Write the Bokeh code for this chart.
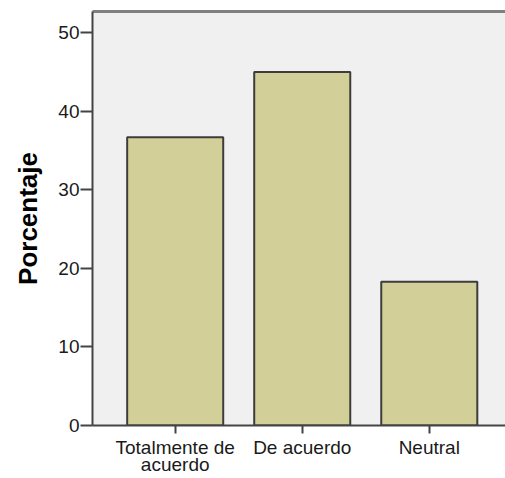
from bokeh.plotting import figure
from bokeh.models import Range1d, FixedTicker, LinearAxis, ColumnDataSource
from bokeh.embed import file_html
from bokeh.resources import INLINE

categories = ["Totalmente de\nacuerdo", "De acuerdo", "Neutral"]
positions = [1, 2, 3]
porcentaje = [36.7, 45.0, 18.3]
y_ticks = [0, 10, 20, 30, 40, 50]

src = ColumnDataSource(dict(x=positions, top=porcentaje))

p = figure(width=505, height=478, output_backend="svg", toolbar_location=None,
           x_range=Range1d(0.349, 3.6), y_range=Range1d(0, 52.7),
           min_border_left=92, min_border_right=0, min_border_top=11,
           min_border_bottom=53)
p.xaxis.visible = False
p.yaxis.visible = False
p.grid.visible = False
p.outline_line_color = None
p.background_fill_color = "#F0F0F0"
p.border_fill_color = "white"

p.vbar(x="x", top="top", bottom=0, width=0.756, source=src,
       fill_color="#D3CF98", line_color="#3c3c3c", line_width=2)

font = "Liberation Sans"

yaxis = LinearAxis(ticker=FixedTicker(ticks=y_ticks), axis_label="Porcentaje")
yaxis.axis_label_text_font = font
yaxis.axis_label_text_font_style = "bold"
yaxis.axis_label_text_font_size = "26px"
yaxis.axis_label_text_color = "black"
yaxis.axis_label_standoff = 12
yaxis.major_label_text_font = font
yaxis.major_label_text_font_size = "19px"
yaxis.major_label_text_color = "#1a1a1a"
yaxis.major_label_standoff = 1
yaxis.axis_line_color = "#444444"
yaxis.axis_line_width = 2
yaxis.major_tick_line_color = "#444444"
yaxis.major_tick_line_width = 2
yaxis.major_tick_out = 12
yaxis.major_tick_in = 0
yaxis.minor_tick_line_color = None
p.add_layout(yaxis, "left")

xaxis = LinearAxis(ticker=FixedTicker(ticks=positions),
                   major_label_overrides={pos: lab for pos, lab in zip(positions, categories)})
xaxis.major_label_text_font = font
xaxis.major_label_text_font_size = "19px"
xaxis.major_label_text_color = "#1a1a1a"
xaxis.major_label_text_line_height = 0.85
xaxis.major_label_standoff = 3
xaxis.axis_line_color = "#444444"
xaxis.axis_line_width = 2
xaxis.major_tick_line_color = "#444444"
xaxis.major_tick_line_width = 2
xaxis.major_tick_out = 8
xaxis.major_tick_in = 0
xaxis.minor_tick_line_color = None
p.add_layout(xaxis, "below")

top_axis = LinearAxis(ticker=FixedTicker(ticks=[]))
top_axis.axis_line_color = "#808080"
top_axis.axis_line_width = 3
top_axis.major_tick_line_color = None
top_axis.minor_tick_line_color = None
top_axis.major_label_text_font_size = "0px"
top_axis.major_label_standoff = 0
p.add_layout(top_axis, "above")

open("out.html", "w").write(file_html(p, INLINE))
